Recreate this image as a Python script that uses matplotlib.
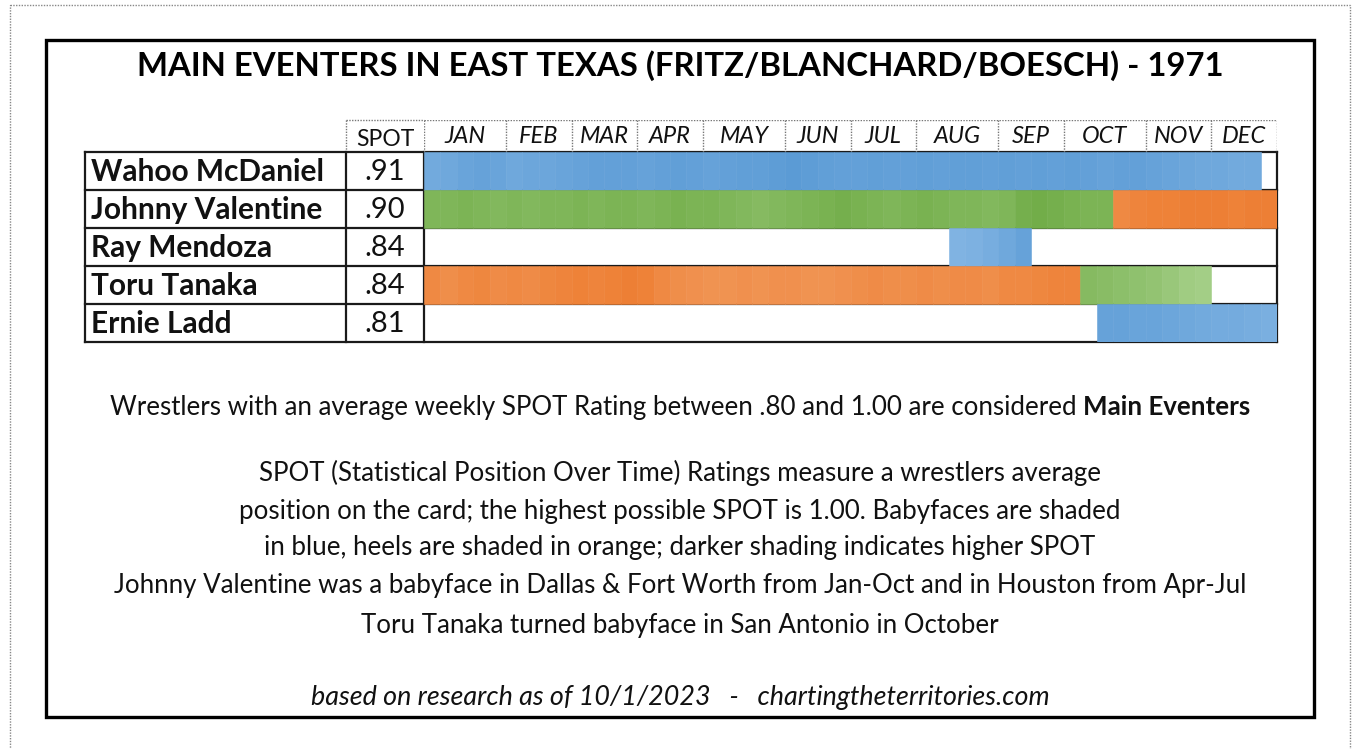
import matplotlib
matplotlib.use('Agg')
import matplotlib.pyplot as plt
from matplotlib.patches import Rectangle
import numpy as np
from matplotlib.colors import to_rgb

plt.rcParams['font.family'] = ['Lato', 'DejaVu Sans']

# ---------------- data ----------------
title = "MAIN EVENTERS IN EAST TEXAS (FRITZ/BLANCHARD/BOESCH) - 1971"
months = ["JAN", "FEB", "MAR", "APR", "MAY", "JUN", "JUL", "AUG", "SEP", "OCT", "NOV", "DEC"]
weeks_per_month = [5, 4, 4, 4, 5, 4, 4, 5, 4, 5, 4, 4]
wrestlers = ["Wahoo McDaniel", "Johnny Valentine", "Ray Mendoza", "Toru Tanaka", "Ernie Ladd"]
spot = [".91", ".90", ".84", ".84", ".81"]

# weekly SPOT segments: (wrestler index, first week, role, weekly SPOT values)
wahoo_face = [0.87, 0.88, 0.90, 0.91, 0.90, 0.88, 0.89, 0.89, 0.90, 0.91,
              0.92, 0.92, 0.92, 0.91, 0.92, 0.93, 0.92, 0.91, 0.92, 0.93,
              0.93, 0.94, 0.95, 0.94, 0.93, 0.92, 0.92, 0.93, 0.92, 0.92,
              0.93, 0.92, 0.93, 0.93, 0.92, 0.93, 0.92, 0.93, 0.92, 0.93,
              0.92, 0.91, 0.92, 0.92, 0.91, 0.90, 0.89, 0.88, 0.88, 0.87,
              0.87]
valentine_mixed = [0.90, 0.90, 0.91, 0.90, 0.89, 0.90, 0.89, 0.90, 0.90, 0.91,
                   0.90, 0.91, 0.91, 0.90, 0.91, 0.92, 0.91, 0.91, 0.90, 0.89,
                   0.88, 0.89, 0.90, 0.91, 0.92, 0.93, 0.92, 0.91, 0.90, 0.91,
                   0.92, 0.91, 0.90, 0.90, 0.89, 0.90, 0.93, 0.94, 0.93, 0.92,
                   0.91, 0.91]
valentine_heel = [0.90, 0.92, 0.93, 0.93, 0.94, 0.94, 0.94, 0.93, 0.94, 0.94]
mendoza_face = [0.82, 0.83, 0.85, 0.88, 0.91]
tanaka_heel = [0.90, 0.88, 0.90, 0.91, 0.89, 0.90, 0.89, 0.91, 0.92, 0.93,
               0.92, 0.93, 0.94, 0.93, 0.90, 0.88, 0.87, 0.86, 0.86, 0.87,
               0.86, 0.87, 0.87, 0.86, 0.86, 0.87, 0.88, 0.89, 0.88, 0.88,
               0.89, 0.88, 0.89, 0.89, 0.88, 0.90, 0.90, 0.91, 0.92, 0.92]
tanaka_mixed = [0.88, 0.87, 0.86, 0.85, 0.84, 0.82, 0.80, 0.79]
ladd_face = [0.91, 0.91, 0.90, 0.90, 0.89, 0.88, 0.87, 0.86, 0.86, 0.85, 0.84]

segments = [
    (0, 0, "face", wahoo_face),
    (1, 0, "mixed", valentine_mixed),
    (1, 42, "heel", valentine_heel),
    (2, 32, "face", mendoza_face),
    (3, 0, "heel", tanaka_heel),
    (3, 40, "mixed", tanaka_mixed),
    (4, 41, "face", ladd_face),
]

note_main = ("Wrestlers with an average weekly SPOT Rating between .80 and 1.00 are considered",
             "Main Eventers")
notes = [
    "SPOT (Statistical Position Over Time) Ratings measure a wrestlers average",
    "position on the card; the highest possible SPOT is 1.00. Babyfaces are shaded",
    "in blue, heels are shaded in orange; darker shading indicates higher SPOT",
    "Johnny Valentine was a babyface in Dallas & Fort Worth from Jan-Oct and in Houston from Apr-Jul",
    "Toru Tanaka turned babyface in San Antonio in October",
]
footer = "based on research as of 10/1/2023   -   chartingtheterritories.com"

# ---------------- style ----------------
palette = {  # (light, dark)
    "face": ("#8bbae6", "#5b9bd5"),
    "heel": ("#f3a66e", "#ed7d31"),
    "mixed": ("#a6d08a", "#6fab45"),
}
lo, hi = 0.78, 0.95


def shade(role, v):
    a = np.clip((v - lo) / (hi - lo), 0, 1)
    l, d = np.array(to_rgb(palette[role][0])), np.array(to_rgb(palette[role][1]))
    return tuple(l + (d - l) * a)


W, H = 1352, 749
fig = plt.figure(figsize=(W / 100, H / 100), dpi=100)
fig.patch.set_facecolor("white")


def fax(x0, y0, x1, y1):
    return [x0 / W, 1 - y1 / H, (x1 - x0) / W, (y1 - y0) / H]


bg = fig.add_axes([0, 0, 1, 1])
bg.set_xlim(0, W)
bg.set_ylim(H, 0)
bg.axis("off")

# frames
bg.add_patch(Rectangle((10, 5), 1340, 800, fill=False, ec="#888888", lw=1.0, ls=(0, (1, 1))))
bg.add_patch(Rectangle((46, 40), 1268, 677, fill=False, ec="black", lw=2.4))

# table geometry
xn0, xs0, xt0, xt1 = 85, 346, 424, 1277
yh0, yr0, rowh = 120, 152, 38
nrows = len(wrestlers)
yr1 = yr0 + rowh * nrows
nweeks = sum(weeks_per_month)

# bars axes
ax = fig.add_axes(fax(xt0, yr0, xt1, yr1))
ax.set_xlim(0, nweeks)
ax.set_ylim(nrows, 0)
ax.axis("off")
for row, start, role, vals in segments:
    for i, v in enumerate(vals):
        c = shade(role, v)
        ax.barh(row + 0.5, 1, left=start + i, height=1.0, color=c, ec=c, lw=0.4)

# header axes
hx = fig.add_axes(fax(xt0, yh0, xt1, yr0))
hx.set_xlim(0, nweeks)
hx.set_ylim(0, 1)
hx.axis("off")
bounds = np.concatenate([[0], np.cumsum(weeks_per_month)])
for k, m in enumerate(months):
    hx.text((bounds[k] + bounds[k + 1]) / 2, 0.48, m, ha="center", va="center",
            fontsize=17, style="italic", color="#111111")
for b in bounds:
    hx.axvline(b, color="#777777", lw=1.0, ls=(0, (1, 1)))
hx.axhline(1, color="#777777", lw=1.0, ls=(0, (1, 1)))

# SPOT header cell
bg.plot([xs0, xs0], [yh0, yr0], color="#777777", lw=1.0, ls=(0, (1, 1)))
bg.plot([xs0, xt0], [yh0, yh0], color="#777777", lw=1.0, ls=(0, (1, 1)))
bg.text((xs0 + xt0) / 2, (yh0 + yr0) / 2 + 3, "SPOT", ha="center", va="center",
        fontsize=16.5, color="#111111")

# table grid
lc = "#1a1a1a"
for r in range(nrows + 1):
    y = yr0 + r * rowh
    bg.plot([xn0, xt1], [y, y], color=lc, lw=1.6, solid_capstyle="projecting")
for x in [xn0, xs0, xt0, xt1]:
    bg.plot([x, x], [yr0, yr1], color=lc, lw=1.6, solid_capstyle="projecting")

for r, (n, s) in enumerate(zip(wrestlers, spot)):
    yc = yr0 + r * rowh + rowh / 2 + 1
    bg.text(xn0 + 6, yc, n, ha="left", va="center", fontsize=21.5, fontweight="bold", color="#111111")
    bg.text((xs0 + xt0) / 2, yc, s, ha="center", va="center", fontsize=21, color="#111111")

# title
bg.text(680, 66, title, ha="center", va="center", fontsize=23.7, fontweight="bold", color="black")

# notes
fig.canvas.draw()
rend = fig.canvas.get_renderer()
fs = 18.6
y1 = 407
t1 = bg.text(0, y1, note_main[0], ha="left", va="center", fontsize=fs, color="#111111")
t2 = bg.text(0, y1, note_main[1], ha="left", va="center", fontsize=fs, fontweight="bold", color="#111111")
w1 = t1.get_window_extent(rend).width
w2 = t2.get_window_extent(rend).width
gap = fs * 100 / 72 * 0.26
x0 = 680 - (w1 + gap + w2) / 2
t1.set_x(x0)
t2.set_x(x0 + w1 + gap)

for y, line in zip([473, 511, 548, 585, 625], notes):
    bg.text(680, y, line, ha="center", va="center", fontsize=fs, color="#111111")

bg.text(680, 698, footer, ha="center", va="center", fontsize=19.4, style="italic", color="#111111")

fig.savefig("out.png", dpi=100, facecolor="white")
